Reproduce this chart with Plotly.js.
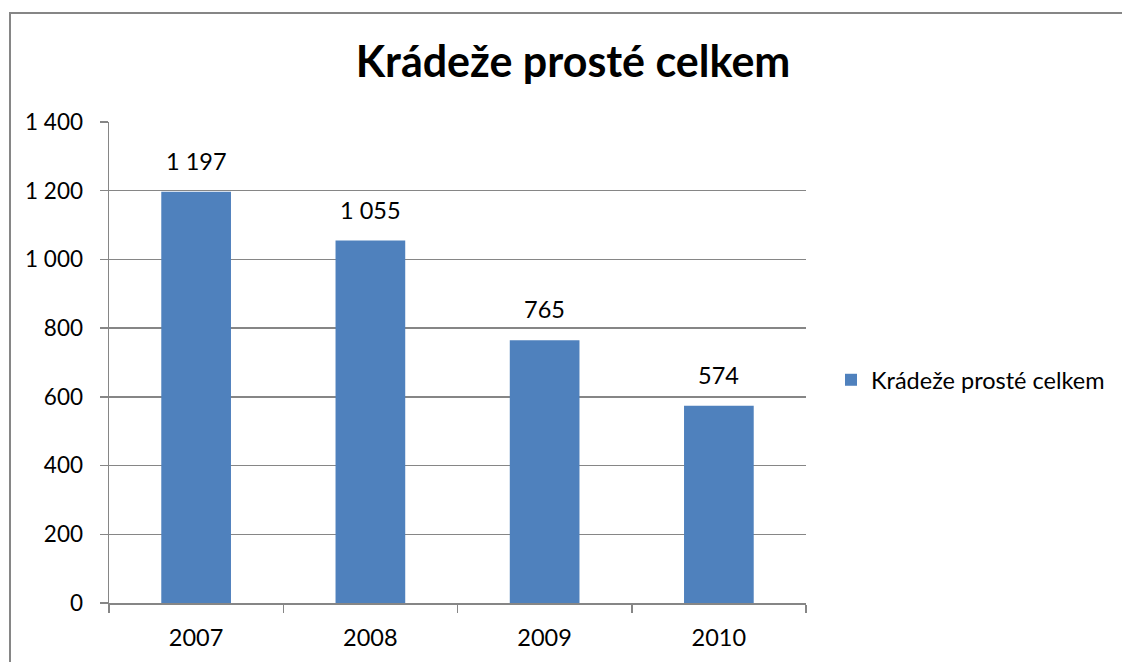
<!DOCTYPE html>
<html>
<head>
<meta charset="utf-8">
<script src="https://cdn.plot.ly/plotly-3.0.1.min.js"></script>
<style>html,body{margin:0;padding:0;background:#fff;}#chart{width:1122px;height:662px;}</style>
</head>
<body>
<div id="chart"></div>
<script>
const categories = ['2007', '2008', '2009', '2010'];
const values = [1197, 1055, 765, 574];
const valueLabels = ['1 197', '1 055', '765', '574'];
const seriesName = 'Krádeže prosté celkem';
const titleText = 'Krádeže prosté celkem';

const W = 1122, H = 662;
const L = 109, R = 806, T = 122, B = 603;
const px = v => (v - L) / (R - L);
const py = v => (B - v) / (B - T);
const FONT = 'Lato, "Liberation Sans", sans-serif';
const GRAY = '#868686';
const FS = 23.5;

const trace = {
  type: 'bar',
  x: categories,
  y: values,
  name: seriesName,
  marker: {color: '#4F81BD', line: {width: 0}},
  hoverinfo: 'none'
};

// category axes take annotation positions as category indices
const annotations = categories.map((c, i) => ({
  x: i, y: values[i], xref: 'x', yref: 'y',
  text: valueLabels[i], showarrow: false,
  yanchor: 'bottom', yshift: 15,
  font: {family: FONT, size: FS, color: '#000'}
}));

const layout = {
  width: W, height: H,
  margin: {l: L, r: W - R, t: T, b: H - B, pad: 0},
  paper_bgcolor: '#fff', plot_bgcolor: '#fff',
  font: {family: FONT, size: FS, color: '#000'},
  separators: ', ',
  title: {
    text: titleText,
    font: {family: FONT, size: 43, color: '#000', weight: 'bold'},
    xref: 'container', yref: 'container',
    x: 573 / W, xanchor: 'center',
    y: 1 - 62 / H, yanchor: 'middle'
  },
  bargap: 0.6,
  xaxis: {
    type: 'category',
    range: [-0.5, categories.length - 0.5],
    showline: true, linecolor: GRAY, linewidth: 1.5,
    ticks: 'outside', tickson: 'boundaries', ticklen: 8, tickcolor: GRAY, tickwidth: 1.5,
    showgrid: false, zeroline: false,
    ticklabelstandoff: 13,
    tickfont: {family: FONT, size: FS, color: '#000'}
  },
  yaxis: {
    range: [0, 1400], dtick: 200, tick0: 0,
    tickformat: ',d',
    showline: true, linecolor: GRAY, linewidth: 1.5,
    ticks: 'outside', ticklen: 8, tickcolor: GRAY, tickwidth: 1.5,
    showgrid: true, gridcolor: GRAY, gridwidth: 1.5,
    zeroline: false,
    ticklabelstandoff: 12,
    tickfont: {family: FONT, size: 22.5, color: '#000'}
  },
  showlegend: true,
  legend: {
    x: px(831), xanchor: 'left',
    y: py(380), yanchor: 'middle',
    font: {family: FONT, size: FS, color: '#000'},
    bgcolor: 'rgba(0,0,0,0)', borderwidth: 0
  },
  annotations: annotations,
  shapes: [
    {type: 'line', xref: 'paper', yref: 'paper', x0: px(10), x1: px(10), y0: py(12), y1: py(700), line: {color: GRAY, width: 2}},
    {type: 'line', xref: 'paper', yref: 'paper', x0: px(9), x1: px(1130), y0: py(13), y1: py(13), line: {color: GRAY, width: 2}}
  ]
};

Plotly.newPlot('chart', [trace], layout, {displayModeBar: false, staticPlot: true});
</script>
</body>
</html>
